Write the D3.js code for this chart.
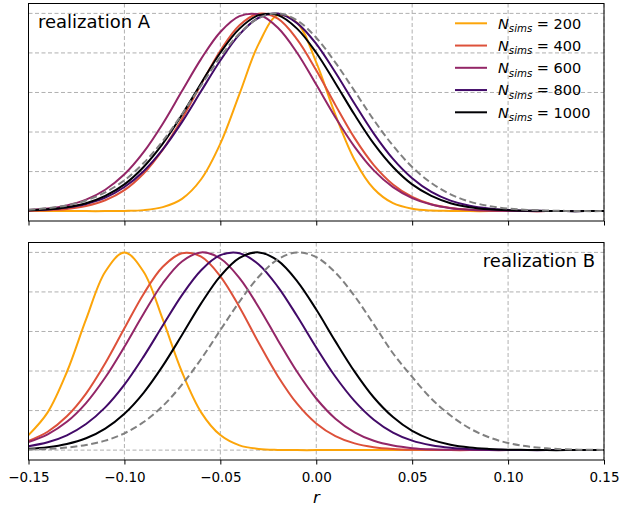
<!DOCTYPE html>
<head>
    <meta charset="utf-8">
    <script src="https://cdn.jsdelivr.net/npm/d3@7"></script>
    <title>Posteriors of r</title>
    <style>
        body { margin: 0; background: #fff; }
        text { font-family: "DejaVu Sans", sans-serif; fill: #000; }
    </style>
</head>
<body>
    <div id="chart"></div>

    <script>
        // sample positions on the r axis
        const rValues = [-0.15, -0.14, -0.13, -0.12, -0.11, -0.10, -0.09, -0.08, -0.07, -0.06, -0.05,
            -0.04, -0.03, -0.02, -0.01, 0.00, 0.01, 0.02, 0.03, 0.04, 0.05,
            0.06, 0.07, 0.08, 0.09, 0.10, 0.11, 0.12, 0.13, 0.14, 0.15];

        const xTicks = [-0.15, -0.10, -0.05, 0.00, 0.05, 0.10, 0.15];
        const xTickLabels = ["\u22120.15", "\u22120.10", "\u22120.05", "0.00", "0.05", "0.10", "0.15"];
        const yGrid = [0, 0.2, 0.4, 0.6, 0.8, 1.0];

        const nsims = [200, 400, 600, 800, 1000];
        const colors = ["#fca50a", "#dd513a", "#932667", "#420a68", "#000004"];

        // realization A (normalised posteriors)
        const a200 = [0, 0, 0, 0, 0, 0.001, 0.005, 0.020, 0.062, 0.161, 0.341, 0.593, 0.846, 0.991, 0.953, 0.752,
            0.487, 0.259, 0.113, 0.040, 0.012, 0.003, 0.001, 0, 0, 0, 0, 0, 0, 0, 0];
        const a400 = [0.002, 0.004, 0.011, 0.026, 0.055, 0.106, 0.190, 0.311, 0.466, 0.642, 0.811, 0.940, 0.998, 0.973, 0.869, 0.712,
            0.536, 0.369, 0.233, 0.135, 0.072, 0.035, 0.016, 0.006, 0.002, 0.001, 0, 0, 0, 0, 0];
        const a600 = [0.006, 0.013, 0.029, 0.058, 0.108, 0.186, 0.298, 0.442, 0.607, 0.770, 0.906, 0.986, 0.994, 0.927, 0.801, 0.640,
            0.474, 0.325, 0.206, 0.121, 0.066, 0.033, 0.015, 0.007, 0.003, 0.001, 0, 0, 0, 0, 0];
        const a800 = [0.003, 0.008, 0.018, 0.036, 0.068, 0.122, 0.202, 0.312, 0.450, 0.607, 0.762, 0.894, 0.978, 0.999, 0.951, 0.846,
            0.701, 0.543, 0.392, 0.264, 0.166, 0.097, 0.053, 0.027, 0.013, 0.006, 0.002, 0.001, 0, 0, 0];
        const a1000 = [0.004, 0.009, 0.020, 0.040, 0.077, 0.135, 0.223, 0.341, 0.487, 0.647, 0.801, 0.923, 0.991, 0.991, 0.923, 0.801,
            0.647, 0.487, 0.341, 0.223, 0.135, 0.077, 0.040, 0.020, 0.009, 0.004, 0.002, 0.001, 0, 0, 0];
        const aTrue = [0.007, 0.015, 0.029, 0.054, 0.095, 0.156, 0.243, 0.355, 0.490, 0.636, 0.779, 0.898, 0.976, 1.000, 0.965, 0.877,
            0.751, 0.607, 0.461, 0.331, 0.223, 0.142, 0.085, 0.048, 0.026, 0.013, 0.006, 0.003, 0.001, 0, 0];

        // realization B
        const b200 = [0.076, 0.191, 0.395, 0.661, 0.902, 1.000, 0.902, 0.661, 0.395, 0.191, 0.076, 0.024, 0.006, 0.001, 0, 0,
            0, 0, 0, 0, 0, 0, 0, 0, 0, 0, 0, 0, 0, 0, 0];
        const b400 = [0.047, 0.093, 0.171, 0.286, 0.439, 0.616, 0.790, 0.927, 0.996, 0.978, 0.879, 0.723, 0.543, 0.374, 0.235, 0.135,
            0.071, 0.034, 0.015, 0.006, 0.002, 0.001, 0, 0, 0, 0, 0, 0, 0, 0, 0];
        const b600 = [0.041, 0.080, 0.143, 0.238, 0.367, 0.523, 0.690, 0.844, 0.954, 1.000, 0.969, 0.870, 0.723, 0.556, 0.396, 0.261,
            0.159, 0.090, 0.047, 0.023, 0.010, 0.004, 0.002, 0.001, 0, 0, 0, 0, 0, 0, 0];
        const b800 = [0.020, 0.040, 0.075, 0.132, 0.216, 0.331, 0.473, 0.630, 0.784, 0.910, 0.986, 0.996, 0.939, 0.826, 0.678, 0.519,
            0.371, 0.248, 0.154, 0.089, 0.048, 0.025, 0.012, 0.005, 0.002, 0.001, 0, 0, 0, 0, 0];
        const b1000 = [0.007, 0.015, 0.031, 0.060, 0.109, 0.184, 0.290, 0.426, 0.582, 0.742, 0.880, 0.972, 1.000, 0.958, 0.855, 0.711,
            0.550, 0.397, 0.266, 0.167, 0.097, 0.053, 0.027, 0.013, 0.006, 0.002, 0.001, 0, 0, 0, 0];
        const bTrue = [0.003, 0.006, 0.013, 0.026, 0.048, 0.085, 0.142, 0.223, 0.331, 0.461, 0.607, 0.751, 0.877, 0.965, 1.000, 0.976,
            0.898, 0.779, 0.636, 0.490, 0.370, 0.260, 0.175, 0.110, 0.065, 0.036, 0.019, 0.009, 0.004, 0.002, 0.001];

        const width = 622, height = 507;

        const svg = d3.select("#chart").append("svg")
            .attr("width", width)
            .attr("height", height);

        const x = d3.scaleLinear()
            .domain([-0.15, 0.15])
            .range([28.5, 604]);

        const panels = [
            { id: "A", top: 3.5, bottom: 221, series: [a200, a400, a600, a800, a1000], truth: aTrue, labels: false },
            { id: "B", top: 242.5, bottom: 460, series: [b200, b400, b600, b800, b1000], truth: bTrue, labels: true }
        ];

        panels.forEach(p => {
            const y = d3.scaleLinear()
                .domain([-0.05, 1.05])
                .range([p.bottom, p.top]);

            const g = svg.append("g");

            g.append("clipPath")
                .attr("id", "clip" + p.id)
                .append("rect")
                .attr("x", x.range()[0])
                .attr("y", p.top)
                .attr("width", x.range()[1] - x.range()[0])
                .attr("height", p.bottom - p.top);

            // grid
            g.selectAll(".vgrid")
                .data(xTicks)
                .enter().append("line")
                .attr("x1", d => x(d)).attr("x2", d => x(d))
                .attr("y1", p.top).attr("y2", p.bottom)
                .attr("stroke", "#b0b0b0")
                .attr("stroke-width", 1)
                .attr("stroke-dasharray", "4,2.5");

            g.selectAll(".hgrid")
                .data(yGrid)
                .enter().append("line")
                .attr("x1", x.range()[0]).attr("x2", x.range()[1])
                .attr("y1", d => y(d)).attr("y2", d => y(d))
                .attr("stroke", "#b0b0b0")
                .attr("stroke-width", 1)
                .attr("stroke-dasharray", "4,2.5");

            const line = d3.line()
                .x((d, i) => x(rValues[i]))
                .y(d => y(d))
                .curve(d3.curveCatmullRom);

            const plot = g.append("g").attr("clip-path", `url(#clip${p.id})`);

            plot.selectAll(".curve")
                .data(p.series)
                .enter().append("path")
                .attr("d", line)
                .attr("fill", "none")
                .attr("stroke", (d, i) => colors[i])
                .attr("stroke-width", 2);

            plot.append("path")
                .attr("d", line(p.truth))
                .attr("fill", "none")
                .attr("stroke", "#808080")
                .attr("stroke-width", 2)
                .attr("stroke-dasharray", "7,3.5");

            // x axis
            const axis = g.append("g")
                .attr("transform", `translate(0,${p.bottom})`)
                .call(d3.axisBottom(x)
                    .tickValues(xTicks)
                    .tickSize(4.5)
                    .tickPadding(7.5)
                    .tickFormat((d, i) => p.labels ? xTickLabels[i] : ""));
            axis.select(".domain").remove();
            axis.selectAll("line").attr("stroke", "#000").attr("stroke-width", 1);
            axis.selectAll("text")
                .style("font-family", "DejaVu Sans")
                .style("font-size", "13.5px")
                .attr("fill", "#000");

            // frame
            g.append("rect")
                .attr("x", x.range()[0])
                .attr("y", p.top)
                .attr("width", x.range()[1] - x.range()[0])
                .attr("height", p.bottom - p.top)
                .attr("fill", "none")
                .attr("stroke", "#000")
                .attr("stroke-width", 1);
        });

        // panel labels
        svg.append("text")
            .attr("x", 38)
            .attr("y", 28.3)
            .style("font-size", "18px")
            .text("realization A");

        svg.append("text")
            .attr("x", 595)
            .attr("y", 266.5)
            .attr("text-anchor", "end")
            .style("font-size", "18px")
            .text("realization B");

        // x label
        svg.append("text")
            .attr("x", 316.5)
            .attr("y", 503)
            .attr("text-anchor", "middle")
            .style("font-size", "16.5px")
            .style("font-style", "italic")
            .text("r");

        // legend
        const legend = svg.append("g").attr("transform", "translate(455, 23.3)");
        const rows = legend.selectAll(".row")
            .data(nsims)
            .enter().append("g")
            .attr("transform", (d, i) => `translate(0,${i * 22.25})`);

        rows.append("line")
            .attr("x1", 0).attr("x2", 32)
            .attr("stroke", (d, i) => colors[i])
            .attr("stroke-width", 2);

        const label = rows.append("text")
            .attr("x", 43)
            .attr("y", 5.3)
            .style("font-size", "14.5px");
        label.append("tspan").style("font-style", "italic").text("N");
        label.append("tspan").style("font-style", "italic").style("font-size", "10.2px")
            .attr("dy", 3.5).text("sims");
        label.append("tspan").attr("dy", -3.5).text(d => " = " + d);
    </script>
</body>
